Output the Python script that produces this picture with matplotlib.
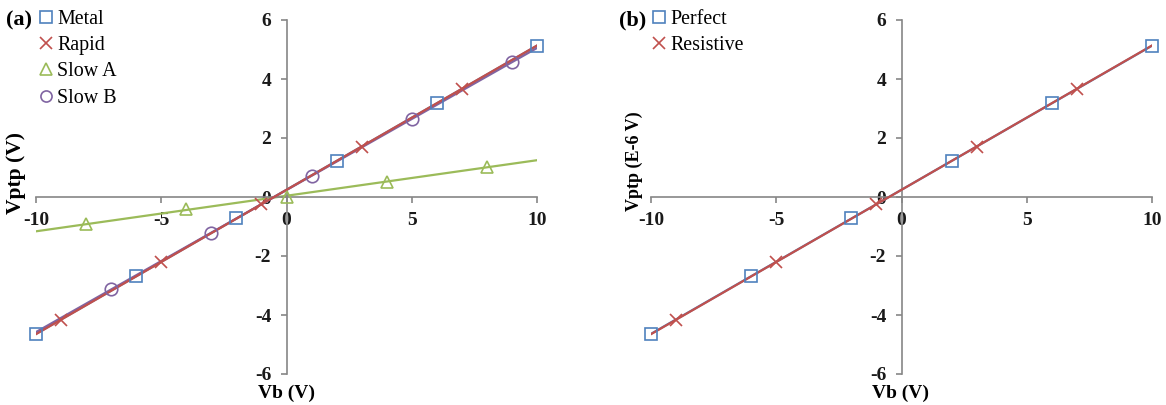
import numpy as np
import matplotlib
matplotlib.use("Agg")
import matplotlib.pyplot as plt
from matplotlib.lines import Line2D

plt.rcParams['font.family'] = ['Liberation Serif', 'DejaVu Serif']

# ---- data (panel a) ----
metal_x = [-10, -6, -2, 2, 6, 10]
metal_y = [-4.65, -2.68, -0.72, 1.22, 3.18, 5.12]
rapid_x = [-9, -5, -1, 3, 7]
rapid_y = [-4.16, -2.20, -0.25, 1.71, 3.67]
slowa_x = [-8, -4, 0, 4, 8]
slowa_y = [-0.92, -0.42, 0.01, 0.52, 1.02]
slowb_x = [-7, -3, 1, 5, 9]
slowb_y = [-3.12, -1.22, 0.71, 2.64, 4.58]

# ---- data (panel b) ----
perfect_x = [-10, -6, -2, 2, 6, 10]
perfect_y = [-4.65, -2.68, -0.72, 1.22, 3.18, 5.12]
resist_x = [-9, -5, -1, 3, 7]
resist_y = [-4.16, -2.20, -0.25, 1.71, 3.67]

xticks = [-10, -5, 0, 5, 10]
yticks = [-6, -4, -2, 0, 2, 4, 6]

BLUE = '#4F81BD'
RED = '#C0504D'
GREEN = '#9BBB59'
PURPLE = '#8064A2'
AXC = '#868686'

W, H = 1166, 405
fig = plt.figure(figsize=(W / 100, H / 100), dpi=100)

def px(x0, y0, x1, y1):
    return [x0 / W, 1 - y1 / H, (x1 - x0) / W, (y1 - y0) / H]

ax1 = fig.add_axes(px(36, 20, 537, 374))
ax2 = fig.add_axes(px(651, 20, 1152, 374))

def style(ax):
    ax.set_xlim(-10, 10)
    ax.set_ylim(-6, 6)
    ax.spines['left'].set_position(('data', 0))
    ax.spines['bottom'].set_position(('data', 0))
    ax.spines['right'].set_visible(False)
    ax.spines['top'].set_visible(False)
    for s in ('left', 'bottom'):
        ax.spines[s].set_color(AXC)
        ax.spines[s].set_linewidth(1.2)
    ax.set_xticks(xticks)
    ax.set_yticks(yticks)
    ax.set_xticklabels([str(t) for t in xticks], fontweight='bold')
    ax.set_yticklabels([str(t) for t in yticks], fontweight='bold')
    ax.tick_params(axis='both', direction='out', length=4, width=1.2,
                   color=AXC, labelsize=14, labelcolor='#1a1a1a')
    ax.tick_params(axis='x', pad=7)
    ax.tick_params(axis='y', pad=7)
    ax.patch.set_alpha(0)

def trend(ax, xs, ys, color, z):
    k, b = np.polyfit(xs, ys, 1)
    xx = np.array([-10.0, 10.0])
    ax.plot(xx, k * xx + b, color=color, lw=1.6, zorder=z)

def marks(ax, xs, ys, m, color, ms, z, label):
    ax.plot(xs, ys, linestyle='none', marker=m, ms=ms, mfc='none',
            mec=color, mew=1.2, zorder=z, label=label, clip_on=False)

style(ax1)
style(ax2)

# panel a
trend(ax1, metal_x, metal_y, BLUE, 2)
trend(ax1, slowa_x, slowa_y, GREEN, 2)
trend(ax1, slowb_x, slowb_y, PURPLE, 3)
trend(ax1, rapid_x, rapid_y, RED, 3.5)
marks(ax1, metal_x, metal_y, 's', BLUE, 9, 5, 'Metal')
marks(ax1, rapid_x, rapid_y, 'x', RED, 9, 5, 'Rapid')
marks(ax1, slowa_x, slowa_y, '^', GREEN, 9, 5, 'Slow A')
marks(ax1, slowb_x, slowb_y, 'o', PURPLE, 9, 5, 'Slow B')

# panel b
trend(ax2, perfect_x, perfect_y, BLUE, 2)
trend(ax2, resist_x, resist_y, RED, 3)
marks(ax2, perfect_x, perfect_y, 's', BLUE, 9, 5, 'Perfect')
marks(ax2, resist_x, resist_y, 'x', RED, 9, 5, 'Resistive')

def legend(ax, x0):
    h, l = ax.get_legend_handles_labels()
    hh = [Line2D([], [], linestyle='none', marker=hi.get_marker(), ms=8,
                 mfc='none', mec=hi.get_markeredgecolor(), mew=1.2) for hi in h]
    fig.legend(hh, l, loc='upper left', bbox_to_anchor=(x0 / W, 1 - 10 / H),
               frameon=False, handlelength=0.6, handletextpad=0.25,
               labelspacing=0.36, borderaxespad=0, borderpad=0,
               prop={'size': 14.4}, markerscale=1.0)

legend(ax1, 40)
legend(ax2, 653)

fig.text(6 / W, 1 - 20 / H, '(a)', fontsize=16, fontweight='bold', va='center')
fig.text(619 / W, 1 - 20 / H, '(b)', fontsize=16, fontweight='bold', va='center')

fig.text(16 / W, 1 - 173 / H, 'Vptp (V)', fontsize=15.5, fontweight='bold',
         rotation=90, ha='center', va='center')
fig.text(634 / W, 1 - 161 / H, 'Vptp (E-6 V)', fontsize=13, fontweight='bold',
         rotation=90, ha='center', va='center')
fig.text(287 / W, 1 - 393 / H, 'Vb (V)', fontsize=14, fontweight='bold',
         ha='center', va='center')
fig.text(901 / W, 1 - 393 / H, 'Vb (V)', fontsize=14, fontweight='bold',
         ha='center', va='center')

fig.savefig('out.png', dpi=100)
